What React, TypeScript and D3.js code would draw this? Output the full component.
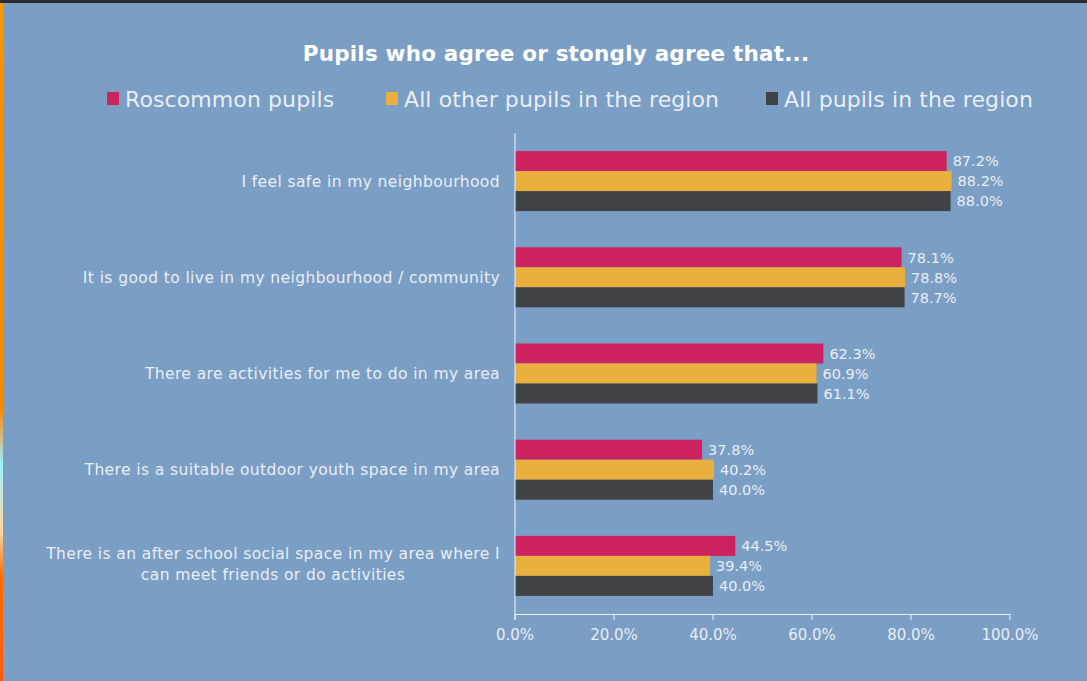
import React, { useEffect, useRef } from "react";
import * as d3 from "d3";

const categories: string[][] = [
  ["I feel safe in my neighbourhood"],
  ["It is good to live in my neighbourhood / community"],
  ["There are activities for me to do in my area"],
  ["There is a suitable outdoor youth space in my area"],
  ["There is an after school social space in my area where I", "can meet friends or do activities"],
];
const seriesNames = ["Roscommon pupils", "All other pupils in the region", "All pupils in the region"];
const roscommon = [87.2, 78.1, 62.3, 37.8, 44.5];
const otherPupils = [88.2, 78.8, 60.9, 40.2, 39.4];
const allPupils = [88.0, 78.7, 61.1, 40.0, 40.0];
const tickValues = [0, 20, 40, 60, 80, 100];
const title = "Pupils who agree or stongly agree that...";

const colors = ["#cc2360", "#e9b03e", "#404245"];
const W = 1087, H = 681;
const FONT = "'DejaVu Sans', 'Open Sans', sans-serif";
const TEXT = "#e9eef5";

export default function App() {
  const ref = useRef<SVGSVGElement>(null);
  useEffect(() => {
    const svg = d3.select(ref.current);
    svg.selectAll("*").remove();
    svg.append("rect").attr("width", W).attr("height", H).attr("fill", "#7a9ec4");
    svg.append("rect").attr("width", W).attr("height", 3).attr("fill", "#2b2b2d");
    const grad = svg.append("defs").append("linearGradient").attr("id", "edge").attr("x1", 0).attr("x2", 0).attr("y1", 0).attr("y2", 1);
    [[0, "#ff9800"], [0.6, "#ff8a00"], [0.68, "#9ff0ff"], [0.78, "#ffd7a0"], [0.85, "#ff6a00"], [1, "#ff5a00"]].forEach(([o, c]) =>
      grad.append("stop").attr("offset", o as number).attr("stop-color", c as string));
    svg.append("rect").attr("y", 3).attr("width", 3).attr("height", H - 3).attr("fill", "url(#edge)");

    const x = d3.scaleLinear().domain([0, 100]).range([515, 1010]);
    const y = d3.scaleBand<number>().domain(categories.map((_, i) => i)).range([133, 614]);
    const inner = d3.scaleBand<number>().domain([0, 1, 2]).range([0, 60]);
    const data = [roscommon, otherPupils, allPupils];

    // title
    svg.append("text").attr("x", 556).attr("y", 61).attr("text-anchor", "middle")
      .attr("font-family", FONT).attr("font-weight", 700).attr("font-size", 21.5).attr("letter-spacing", 0.2)
      .attr("fill", "#ffffff").text(title);

    // legend
    const legendX = [107, 386, 766];
    seriesNames.forEach((n, i) => {
      svg.append("rect").attr("x", legendX[i]).attr("y", 92).attr("width", 12).attr("height", 13).attr("fill", colors[i]);
      svg.append("text").attr("x", legendX[i] + 18).attr("y", 107).attr("font-family", FONT)
        .attr("font-size", 22).attr("letter-spacing", 0.1).attr("fill", TEXT).text(n);
    });

    // bars
    data.forEach((vals, s) => {
      vals.forEach((v, i) => {
        const top = y(i)! + (y.bandwidth() - 60) / 2 + inner(s)!;
        svg.append("rect").attr("x", x(0)).attr("y", top).attr("width", x(v) - x(0)).attr("height", inner.bandwidth())
          .attr("fill", colors[s]);
        svg.append("text").attr("x", x(v) + 6).attr("y", top + inner.bandwidth() / 2).attr("dy", "0.36em")
          .attr("font-family", FONT).attr("font-size", 14.5).attr("fill", TEXT).text(v.toFixed(1) + "%");
      });
    });

    // axes lines
    svg.append("line").attr("x1", x(0)).attr("x2", x(0)).attr("y1", 133).attr("y2", 620).attr("stroke", "#eef2f7").attr("stroke-width", 1);
    svg.append("line").attr("x1", x(0)).attr("x2", x(100)).attr("y1", 614.5).attr("y2", 614.5).attr("stroke", "#eef2f7").attr("stroke-width", 1);
    tickValues.forEach((t) => {
      svg.append("line").attr("x1", x(t)).attr("x2", x(t)).attr("y1", 614).attr("y2", 620).attr("stroke", "#eef2f7");
      svg.append("text").attr("x", x(t)).attr("y", 640).attr("text-anchor", "middle").attr("font-family", FONT)
        .attr("font-size", 15).attr("fill", TEXT).text(t.toFixed(1) + "%");
    });

    // category labels
    categories.forEach((lines, i) => {
      const cy = y(i)! + y.bandwidth() / 2 - (lines.length > 1 ? 1.5 : 0);
      const g = svg.append("g");
      const texts = lines.map((l, k) =>
        g.append("text").attr("y", cy + (k - (lines.length - 1) / 2) * 21).attr("dy", "0.35em")
          .attr("font-family", FONT).attr("font-size", 15.5).attr("letter-spacing", 0.4)
          .attr("fill", TEXT).attr("text-anchor", "middle").text(l));
      const maxW = d3.max(texts, (t) => (t.node() as SVGTextElement).getComputedTextLength()) || 0;
      texts.forEach((t) => t.attr("x", 500 - maxW / 2));
    });
  }, []);
  return <svg ref={ref} width={W} height={H} style={{ position: "absolute", left: 0, top: 0 }} />;
}
